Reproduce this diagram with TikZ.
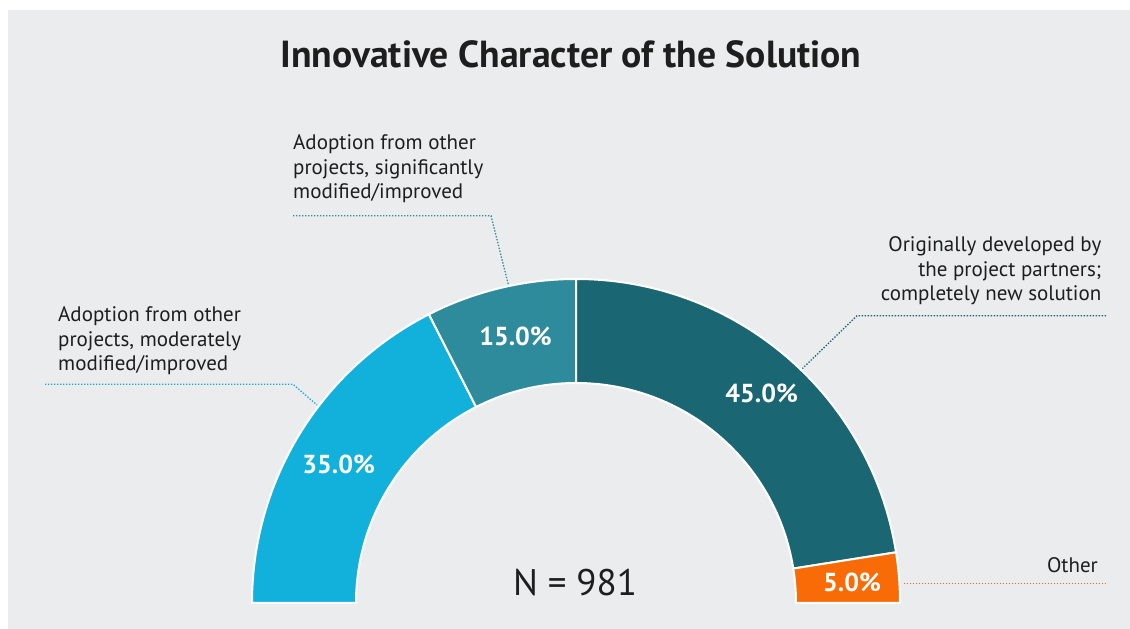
\documentclass[tikz,border=0pt]{standalone}
\usepackage{fontspec}
\setmainfont{PT Sans}
\usetikzlibrary{calc}
\definecolor{bg}{HTML}{EBECEE}
\definecolor{cA}{HTML}{12B1DC}
\definecolor{cB}{HTML}{2E8B9B}
\definecolor{cC}{HTML}{1B6673}
\definecolor{cD}{HTML}{F96B07}
\definecolor{txt}{HTML}{1E1E1E}
\newcommand\donutseg[3]{\filldraw[seg,fill=#3] ([shift={(#1:324)}]C) arc[start angle=#1,end angle=#2,radius=324] -- ([shift={(#2:220)}]C) arc[start angle=#2,end angle=#1,radius=220] -- cycle;}
\begin{document}
\begin{tikzpicture}[x=1pt,y=1pt,
 seg/.style={draw=white,line width=2pt,line join=round},
 lbl/.style={font=\fontsize{21}{24.5}\selectfont,text=txt,inner sep=0pt},
 pct/.style={font=\fontsize{26}{30}\selectfont\bfseries,text=white,inner sep=0pt,anchor=base},
 leader/.style={line width=1.3pt,dash pattern=on 1.4pt off 1.6pt}]
\useasboundingbox (0,0) rectangle (1130,629);
\fill[white] (0,0) rectangle (1130,629);
\fill[bg] (8,0) rectangle (1130,619);
\coordinate (C) at (576,26);
% donut segments
\donutseg{180}{117}{cA}
\donutseg{117}{90}{cB}
\donutseg{90}{9}{cC}
\donutseg{9}{0}{cD}
% title
\node[font=\fontsize{37.7}{42}\selectfont\bfseries,text=txt,anchor=base,inner sep=0pt] (title) at (571,561) {Innovative Character of the Solution};
% percentages
\node[pct] (pA) at (338.7,155.7) {35.0\%};
\node[pct] (pB) at (515.5,283) {15.0\%};
\node[pct] (pC) at (761.7,226.3) {45.0\%};
\node[pct] (pD) at (852,37.3) {5.0\%};
% N
\node[font=\fontsize{37}{40}\selectfont,text=txt,anchor=base,inner sep=0pt] (N) at (575,33) {N = 981};
% labels (base anchor = baseline of last line)
\node[lbl,anchor=base west,align=left] (lA) at (58,258.3) {Adoption from other\\projects, moderately\\modified/improved};
\node[lbl,anchor=base west,align=left] (lB) at (293,430) {Adoption from other\\projects, significantly\\modified/improved};
\node[lbl,anchor=base east,align=right] (lC) at (1101.5,328.3) {Originally developed by\\the project partners;\\completely new solution};
\node[lbl,anchor=base east] (lD) at (1098,56.3) {Other};
% leader coordinates
\coordinate (aA1) at (45,244.7);
\coordinate (aA2) at (293,244.7);
\coordinate (aA3) at ([shift={(142.6:326)}]C);
\coordinate (aB1) at (293,413.3);
\coordinate (aB2) at (491,413.3);
\coordinate (aB3) at ([shift={(102:326)}]C);
\coordinate (aC1) at (1106,313.3);
\coordinate (aC2) at (857,313.3);
\coordinate (aC3) at ([shift={(46:326)}]C);
\coordinate (aD1) at (1106,45.7);
\coordinate (aD2) at (903,45.7);
% leaders
\draw[leader,cA] (aA1) -- (aA2) -- (aA3);
\draw[leader,cB] (aB1) -- (aB2) -- (aB3);
\draw[leader,cC] (aC1) -- (aC2) -- (aC3);
\draw[leader,cD] (aD1) -- (aD2);
\end{tikzpicture}
\end{document}
